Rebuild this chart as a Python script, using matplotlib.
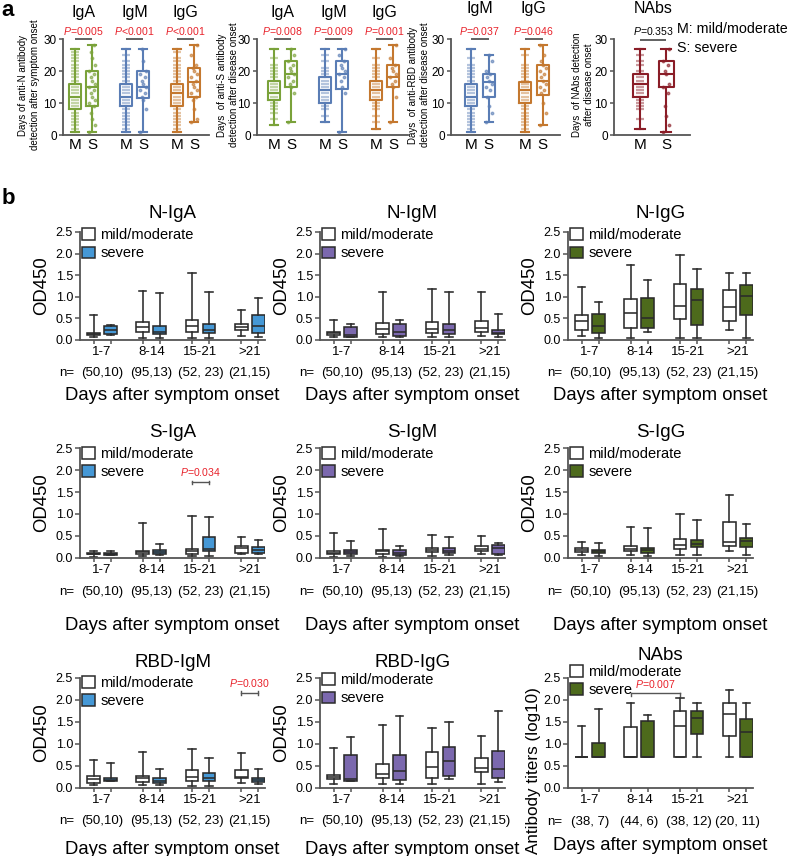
import matplotlib
matplotlib.use('Agg')
import matplotlib.pyplot as plt
from matplotlib.patches import Patch

plt.rcParams['font.family'] = ['Liberation Sans', 'DejaVu Sans']
plt.rcParams['mathtext.fontset'] = 'custom'
plt.rcParams['mathtext.rm'] = 'Liberation Sans'
plt.rcParams['mathtext.it'] = 'Liberation Sans:italic'

# ---------------- Panel a data (days) : order [M, S] per antibody ----------------
aN_titles = ['IgA', 'IgM', 'IgG']
aN_lo = [1, 1, 1, 1, 1, 4]
aN_q1 = [8, 9, 9, 11.5, 9, 12]
aN_med = [12, 15, 12, 15, 13, 16.5]
aN_q3 = [16, 20, 16, 20, 16, 21]
aN_hi = [27, 28, 27, 27, 27, 28]
aN_p = ['=0.005', '<0.001', '<0.001']
aN_ptsM = [[1, 2, 3, 4, 5, 6, 7, 8, 9, 10, 11, 12, 13, 14, 15, 16, 17, 18, 19, 20, 21, 22, 23, 24, 25, 26, 27],
           [1, 2, 3, 4, 5, 6, 7, 8, 9, 10, 11, 12, 13, 14, 15, 16, 17, 18, 19, 20, 21, 22, 23, 25, 27],
           [1, 2, 3, 4, 5, 6, 7, 8, 9, 10, 11, 12, 13, 14, 15, 16, 17, 18, 19, 20, 21, 22, 23, 24, 26, 27]]
aN_ptsS = [[1, 3, 5, 7, 9, 10, 11, 12, 13, 14, 15, 16, 17, 18, 19, 20, 22, 24, 26, 28],
           [1, 8, 11, 12, 13, 14, 15, 16, 17, 18, 19, 20, 23, 27],
           [4, 5, 8, 11, 12, 13, 14, 15, 16, 17, 18, 19, 20, 21, 22, 25, 28]]

aS_titles = ['IgA', 'IgM', 'IgG']
aS_lo = [3, 4, 4, 1, 2, 4]
aS_q1 = [11, 15, 10, 14.5, 11, 15]
aS_med = [13, 19, 14, 19, 14, 18]
aS_q3 = [17, 23, 18, 23, 17, 22]
aS_hi = [27, 27, 27, 27, 27, 28]
aS_p = ['=0.008', '=0.009', '=0.001']
aS_ptsM = [[3, 5, 7, 8, 9, 10, 11, 12, 13, 14, 15, 16, 17, 18, 19, 20, 21, 22, 24, 27],
           [4, 6, 8, 9, 10, 11, 12, 13, 14, 15, 16, 17, 18, 19, 20, 21, 23, 25, 27],
           [2, 4, 6, 8, 9, 10, 11, 12, 13, 14, 15, 16, 17, 18, 19, 20, 21, 22, 24, 27]]
aS_ptsS = [[4, 13, 15, 16, 17, 18, 19, 20, 21, 22, 23, 25, 27],
           [1, 13, 15, 17, 18, 19, 20, 21, 22, 23, 25, 27],
           [4, 12, 15, 16, 17, 18, 19, 20, 21, 22, 24, 28]]

aR_titles = ['IgM', 'IgG']
aR_lo = [1, 4, 1, 3]
aR_q1 = [9, 12, 10, 12.5]
aR_med = [12, 16.5, 14, 17]
aR_q3 = [16, 19, 16.5, 22]
aR_hi = [27, 25, 27, 28]
aR_p = ['=0.037', '=0.046']
aR_ptsM = [[1, 2, 3, 4, 5, 6, 7, 8, 9, 10, 11, 12, 13, 14, 15, 16, 17, 18, 19, 20, 21, 22, 24, 27],
           [1, 2, 3, 4, 5, 6, 7, 8, 9, 10, 11, 12, 13, 14, 15, 16, 17, 18, 19, 20, 21, 22, 25, 27]]
aR_ptsS = [[4, 7, 9, 12, 14, 15, 16, 17, 18, 19, 20, 23, 25],
           [3, 7, 10, 13, 14, 15, 16, 17, 18, 19, 20, 21, 22, 23, 25, 28]]

aNAb_titles = ['NAbs']
aNAb_lo = [2, 1]
aNAb_q1 = [12, 15]
aNAb_med = [16, 19]
aNAb_q3 = [19, 23]
aNAb_hi = [27, 27]
aNAb_p = ['=0.353']
aNAb_ptsM = [[2, 5, 8, 9, 10, 11, 12, 13, 14, 15, 16, 17, 18, 19, 20, 22, 23, 25, 27]]
aNAb_ptsS = [[1, 3, 6, 9, 13, 15, 16, 19, 20, 22, 23, 27]]

# ---------------- Panel b data (OD450) : [1-7 M, 1-7 S, 8-14 M, 8-14 S, 15-21 M, 15-21 S, >21 M, >21 S] ----
day_groups = ['1-7', '8-14', '15-21', '>21']
n_od = ['(50,10)', '(95,13)', '(52, 23)', '(21,15)']
n_nab = ['(38, 7)', '(44, 6)', '(38, 12)', '(20, 11)']

NIgA_lo = [0.07, 0.12, 0.05, 0.05, 0.05, 0.05, 0.10, 0.08]
NIgA_q1 = [0.11, 0.15, 0.18, 0.13, 0.18, 0.17, 0.22, 0.17]
NIgA_med = [0.14, 0.22, 0.29, 0.18, 0.33, 0.24, 0.31, 0.32]
NIgA_q3 = [0.17, 0.32, 0.42, 0.32, 0.47, 0.38, 0.38, 0.57]
NIgA_hi = [0.59, 0.34, 1.13, 1.08, 1.55, 1.10, 0.70, 0.97]

NIgM_lo = [0.06, 0.07, 0.08, 0.07, 0.07, 0.06, 0.10, 0.06]
NIgM_q1 = [0.12, 0.08, 0.15, 0.10, 0.16, 0.14, 0.18, 0.13]
NIgM_med = [0.16, 0.12, 0.25, 0.19, 0.26, 0.22, 0.28, 0.17]
NIgM_q3 = [0.19, 0.30, 0.39, 0.36, 0.42, 0.37, 0.45, 0.22]
NIgM_hi = [0.46, 0.36, 1.10, 0.46, 1.19, 1.10, 1.10, 0.60]

NIgG_lo = [0.10, 0.05, 0.05, 0.18, 0.05, 0.05, 0.23, 0.05]
NIgG_q1 = [0.22, 0.17, 0.28, 0.27, 0.48, 0.35, 0.43, 0.57]
NIgG_med = [0.45, 0.32, 0.62, 0.52, 0.79, 0.92, 0.76, 1.02]
NIgG_q3 = [0.58, 0.60, 0.95, 0.98, 1.30, 1.17, 1.15, 1.28]
NIgG_hi = [1.23, 0.87, 1.73, 1.40, 1.97, 1.64, 1.56, 1.56]

SIgA_lo = [0.03, 0.06, 0.04, 0.07, 0.05, 0.05, 0.08, 0.09]
SIgA_q1 = [0.08, 0.07, 0.09, 0.10, 0.10, 0.15, 0.12, 0.12]
SIgA_med = [0.10, 0.10, 0.13, 0.13, 0.15, 0.20, 0.22, 0.18]
SIgA_q3 = [0.12, 0.12, 0.17, 0.19, 0.21, 0.47, 0.28, 0.25]
SIgA_hi = [0.17, 0.15, 0.79, 0.32, 0.95, 0.93, 0.48, 0.42]

SIgM_lo = [0.03, 0.05, 0.03, 0.04, 0.05, 0.06, 0.08, 0.06]
SIgM_q1 = [0.09, 0.08, 0.10, 0.06, 0.13, 0.12, 0.16, 0.10]
SIgM_med = [0.12, 0.13, 0.15, 0.12, 0.18, 0.17, 0.21, 0.22]
SIgM_q3 = [0.15, 0.19, 0.19, 0.19, 0.23, 0.23, 0.27, 0.30]
SIgM_hi = [0.56, 0.39, 0.67, 0.27, 0.53, 0.48, 0.51, 0.35]

SIgG_lo = [0.07, 0.05, 0.06, 0.05, 0.06, 0.06, 0.17, 0.06]
SIgG_q1 = [0.13, 0.11, 0.15, 0.12, 0.21, 0.25, 0.27, 0.25]
SIgG_med = [0.18, 0.16, 0.21, 0.18, 0.30, 0.32, 0.36, 0.38]
SIgG_q3 = [0.22, 0.19, 0.28, 0.23, 0.44, 0.42, 0.81, 0.45]
SIgG_hi = [0.36, 0.35, 0.70, 0.69, 1.01, 0.87, 1.43, 0.78]

RIgM_lo = [0.06, 0.15, 0.07, 0.07, 0.05, 0.05, 0.12, 0.10]
RIgM_q1 = [0.12, 0.15, 0.14, 0.11, 0.15, 0.15, 0.22, 0.14]
RIgM_med = [0.20, 0.19, 0.22, 0.17, 0.24, 0.23, 0.25, 0.18]
RIgM_q3 = [0.27, 0.23, 0.28, 0.23, 0.42, 0.35, 0.40, 0.23]
RIgM_hi = [0.63, 0.57, 0.81, 0.44, 0.89, 0.68, 0.79, 0.44]

RIgG_lo = [0.10, 0.15, 0.08, 0.10, 0.10, 0.20, 0.10, 0.14]
RIgG_q1 = [0.20, 0.17, 0.23, 0.18, 0.23, 0.28, 0.37, 0.23]
RIgG_med = [0.25, 0.20, 0.32, 0.39, 0.48, 0.61, 0.45, 0.43]
RIgG_q3 = [0.30, 0.75, 0.55, 0.76, 0.82, 0.94, 0.68, 0.84]
RIgG_hi = [0.90, 1.16, 1.43, 1.64, 1.37, 1.49, 1.19, 1.74]

NAb_lo = [0.70, 0.70, 0.70, 0.70, 0.70, 0.70, 0.70, 0.70]
NAb_q1 = [0.70, 0.70, 0.70, 0.70, 0.70, 1.22, 1.18, 0.70]
NAb_med = [0.70, 0.70, 0.70, 0.70, 1.40, 1.60, 1.68, 1.28]
NAb_q3 = [0.70, 1.02, 1.38, 1.53, 1.75, 1.76, 1.93, 1.57]
NAb_hi = [1.40, 1.80, 1.93, 1.65, 2.05, 1.93, 2.22, 1.93]

# ---------------- styling ----------------
W, H = 788, 856
fig = plt.figure(figsize=(W / 100, H / 100), dpi=100)
PX = 0.72  # points per pixel
RED = '#e8222b'
GREEN_A, BLUE_A, ORANGE_A, RED_A = '#7aa23a', '#5a7db5', '#c4782f', '#8a1d27'
C_BLUE, C_PURPLE, C_GREEN = '#4598d6', '#7b68ae', '#4d6a1c'
EC = '#2b2b2b'
AXC = '#555555'


def add_ax(l, t, r, b):
    return fig.add_axes([l / W, 1 - b / H, (r - l) / W, (b - t) / H])


def style_spines(ax, color, lw):
    for s in ['top', 'right']:
        ax.spines[s].set_visible(False)
    for s in ['left', 'bottom']:
        ax.spines[s].set_color(color)
        ax.spines[s].set_linewidth(lw)


def panel_a(box, unit, xlim, titles, lo, q1, med, q3, hi, ptsM, ptsS, pvals, colors,
            ylabel, ylab_right, title_base_px, pcolor=RED, bw_px=12):
    l, t, r, b = box
    ax = add_ax(l, t, r, b)
    pxday = (b - t) / 30.0
    n = len(titles)
    pos = []
    for k in range(n):
        pos += [1 + 3 * k, 2 + 3 * k]
    stats = [dict(med=med[i], q1=q1[i], q3=q3[i], whislo=lo[i], whishi=hi[i]) for i in range(2 * n)]
    bw = bw_px / unit
    for i in range(2 * n):
        c = colors[i // 2]
        ax.bxp([stats[i]], positions=[pos[i]], widths=bw, capwidths=bw * 0.7, showfliers=False,
               boxprops=dict(color=c, linewidth=1.5), whiskerprops=dict(color=c, linewidth=1.5),
               capprops=dict(color=c, linewidth=1.5), medianprops=dict(color=c, linewidth=1.5))
    offs = [-3, 3, 0, -1.5, 1.5]
    title_y = (b - title_base_px) / pxday
    p_y = (b - 35) / pxday
    for k in range(n):
        c = colors[k]
        ax.plot([pos[2 * k]] * len(ptsM[k]), ptsM[k], linestyle='none', marker='_', ms=6,
                mew=1.6, color=c, alpha=0.45, zorder=1)
        xs = [pos[2 * k + 1] + offs[j % len(offs)] / unit for j in range(len(ptsS[k]))]
        ax.plot(xs, ptsS[k], linestyle='none', marker='o', ms=1.8, color=c, alpha=0.6, zorder=1)
        ax.text(pos[2 * k] + 0.5, title_y, titles[k], ha='center', va='baseline', fontsize=11.5,
                clip_on=False)
        pline = 30 if pcolor == RED else 29.7
        ax.plot([pos[2 * k], pos[2 * k + 1]], [pline, pline], color='#555555', lw=1.3, clip_on=False,
                solid_capstyle='butt')
        ptxt = r'$\it{P}$' + pvals[k]
        ax.text(pos[2 * k] + 0.5, p_y, ptxt, ha='center', va='baseline', fontsize=7.6, color=pcolor,
                clip_on=False)
    ax.set_xlim(*xlim)
    ax.set_ylim(0, 30)
    ax.set_yticks([0, 10, 20, 30])
    ax.tick_params(axis='y', labelsize=8.5, length=3, width=1.1, color=AXC, pad=1.5)
    ax.set_xticks(pos)
    ax.set_xticklabels(['M', 'S'] * n)
    ax.tick_params(axis='x', labelsize=11, length=0, pad=2.5)
    style_spines(ax, AXC, 1.3)
    ax.set_ylabel(ylabel, fontsize=7.0, linespacing=1.25)
    ax.yaxis.set_label_coords((ylab_right - l) / (r - l), 0.52)
    return ax


# ---- panel a ----
panel_a((63, 39, 209, 135), 17.0, (0.29, 8.88), aN_titles, aN_lo, aN_q1, aN_med, aN_q3, aN_hi,
        aN_ptsM, aN_ptsS, aN_p, [GREEN_A, BLUE_A, ORANGE_A],
        'Days of anti-N antibody\ndetection after symptom onset', 40, 17)
panel_a((257, 39, 408, 135), 17.0, (0.0, 8.88), aS_titles, aS_lo, aS_q1, aS_med, aS_q3, aS_hi,
        aS_ptsM, aS_ptsS, aS_p, [GREEN_A, BLUE_A, ORANGE_A],
        'Days  of anti-S antibody\ndetection after disease onset', 239, 17)
panel_a((451, 39, 560, 135), 18.0, (-0.1, 5.95), aR_titles, aR_lo, aR_q1, aR_med, aR_q3, aR_hi,
        aR_ptsM, aR_ptsS, aR_p, [BLUE_A, ORANGE_A],
        'Days  of anti-RBD antibody\ndetection after disease onset', 430, 13)
panel_a((614, 39, 690, 135), 26.0, (0.0, 2.92), aNAb_titles, aNAb_lo, aNAb_q1, aNAb_med, aNAb_q3,
        aNAb_hi, aNAb_ptsM, aNAb_ptsS, aNAb_p, [RED_A],
        'Days  of NAbs detection\nafter disease onset', 594, 13, pcolor='black', bw_px=15)

fig.text(677 / W, 1 - 29 / H, 'M: mild/moderate', fontsize=10.3, va='center', ha='left')
fig.text(677 / W, 1 - 48 / H, 'S: severe', fontsize=10.3, va='center', ha='left')
fig.text(8 / W, 1 - 11 / H, 'a', fontsize=16, fontweight='bold', va='center', ha='center')
fig.text(8 / W, 1 - 199 / H, 'b', fontsize=16, fontweight='bold', va='center', ha='center')


# ---- panel b ----
def panel_b(box, title, lo, q1, med, q3, hi, color, nlab, n_off, days_off, title_off, leg_y,
            ylabel='OD450', pbar=None):
    l, t, r, b = box
    ax = add_ax(l, t, r, b)
    pos = [1 + 2.9 * g + s for g in range(4) for s in (0, 1)]
    centers = [1.5 + 2.9 * g for g in range(4)]
    stats = [dict(med=med[i], q1=q1[i], q3=q3[i], whislo=lo[i], whishi=hi[i]) for i in range(8)]
    lw = 1.15
    bp = ax.bxp(stats, positions=pos, widths=0.76, capwidths=0.42, patch_artist=True, showfliers=False,
                boxprops=dict(edgecolor=EC, linewidth=lw), whiskerprops=dict(color=EC, linewidth=lw),
                capprops=dict(color=EC, linewidth=lw), medianprops=dict(color=EC, linewidth=lw))
    for i, patch in enumerate(bp['boxes']):
        patch.set_facecolor('white' if i % 2 == 0 else color)
    ax.set_xlim(0.2, 11.1)
    ax.set_ylim(0, 2.5)
    ax.set_yticks([0, 0.5, 1.0, 1.5, 2.0, 2.5])
    ax.set_yticklabels(['0.0', '0.5', '1.0', '1.5', '2.0', '2.5'])
    ax.tick_params(axis='y', labelsize=9, length=3.5, width=1.1, color=AXC, pad=1.5)
    ax.set_xticks(centers)
    ax.set_xticklabels(day_groups)
    ax.set_xticks(pos, minor=True)
    ax.tick_params(axis='x', which='major', labelsize=9.5, length=0, pad=4.5)
    ax.tick_params(axis='x', which='minor', length=3, width=1.1, color=AXC)
    style_spines(ax, AXC, 1.3)
    ax.set_ylabel(ylabel, fontsize=13.3, labelpad=4)
    ax.annotate(title, xy=(0.5, 1), xycoords='axes fraction', xytext=(0, title_off * PX),
                textcoords='offset points', ha='center', va='baseline', fontsize=13.5)
    ax.annotate('n=', xy=(0, 0), xycoords='axes fraction', xytext=(-13 * PX, -n_off * PX),
                textcoords='offset points', ha='center', va='center', fontsize=9.5)
    for c, lab in zip(centers, nlab):
        ax.annotate(lab, xy=(c, 0), xycoords=('data', 'axes fraction'), xytext=(0, -n_off * PX),
                    textcoords='offset points', ha='center', va='center', fontsize=9.5)
    ax.annotate('Days after symptom onset', xy=(0.5, 0), xycoords='axes fraction',
                xytext=(0, -days_off * PX), textcoords='offset points', ha='center', va='center',
                fontsize=13.3)
    handles = [Patch(facecolor='white', edgecolor=EC, linewidth=1.1),
               Patch(facecolor=color, edgecolor=EC, linewidth=1.1)]
    ax.legend(handles, ['mild/moderate', 'severe'], loc='upper left', bbox_to_anchor=(0.012, leg_y),
              frameon=False, fontsize=10.5, handlelength=0.85, handleheight=0.85, handletextpad=0.4,
              labelspacing=0.3, borderaxespad=0, borderpad=0)
    if pbar is not None:
        i1, i2, yb, yt, ptxt, down = pbar
        x1, x2 = pos[i1], pos[i2]
        ax.plot([x1, x2], [yb, yb], color='#555555', lw=1.0)
        if down:
            ax.plot([x1, x1], [yb, yb - 0.07], color='#555555', lw=1.0)
            ax.plot([x2, x2], [yb, yb - 0.07], color='#555555', lw=1.0)
        else:
            ax.plot([x1, x1], [yb - 0.04, yb + 0.04], color='#555555', lw=1.0)
            ax.plot([x2, x2], [yb - 0.04, yb + 0.04], color='#555555', lw=1.0)
        ax.text((x1 + x2) / 2, yt, r'$\it{P}$' + ptxt, ha='center', va='center', fontsize=7.6,
                color=RED)
    return ax


C1, C2, C3 = (80, 265), (320, 505), (568, 753)
R1, R2, R3 = (232, 340), (448, 558), (678, 788)

panel_b((C1[0], R1[0], C1[1], R1[1]), 'N-IgA', NIgA_lo, NIgA_q1, NIgA_med, NIgA_q3, NIgA_hi, C_BLUE,
        n_od, 33, 56, 14, 1.037)
panel_b((C2[0], R1[0], C2[1], R1[1]), 'N-IgM', NIgM_lo, NIgM_q1, NIgM_med, NIgM_q3, NIgM_hi, C_PURPLE,
        n_od, 33, 56, 14, 1.037)
panel_b((C3[0], R1[0], C3[1], R1[1]), 'N-IgG', NIgG_lo, NIgG_q1, NIgG_med, NIgG_q3, NIgG_hi, C_GREEN,
        n_od, 33, 56, 14, 1.037)

panel_b((C1[0], R2[0], C1[1], R2[1]), 'S-IgA', SIgA_lo, SIgA_q1, SIgA_med, SIgA_q3, SIgA_hi, C_BLUE,
        n_od, 34, 68, 11, 1.01, pbar=(4, 5, 1.72, 1.95, '=0.034', False))
panel_b((C2[0], R2[0], C2[1], R2[1]), 'S-IgM', SIgM_lo, SIgM_q1, SIgM_med, SIgM_q3, SIgM_hi, C_PURPLE,
        n_od, 34, 68, 11, 1.01)
panel_b((C3[0], R2[0], C3[1], R2[1]), 'S-IgG', SIgG_lo, SIgG_q1, SIgG_med, SIgG_q3, SIgG_hi, C_GREEN,
        n_od, 34, 68, 11, 1.01)

panel_b((C1[0], R3[0], C1[1], R3[1]), 'RBD-IgM', RIgM_lo, RIgM_q1, RIgM_med, RIgM_q3, RIgM_hi, C_BLUE,
        n_od, 33, 61, 11, 1.02, pbar=(6, 7, 2.16, 2.38, '=0.030', False))
panel_b((C2[0], R3[0], C2[1], R3[1]), 'RBD-IgG', RIgG_lo, RIgG_q1, RIgG_med, RIgG_q3, RIgG_hi, C_PURPLE,
        n_od, 33, 61, 11, 1.045)
axn = panel_b((C3[0], R3[0], C3[1], R3[1]), 'NAbs', NAb_lo, NAb_q1, NAb_med, NAb_q3, NAb_hi, C_GREEN,
              n_nab, 34, 58, 18, 1.12, ylabel='Antibody titers (log10)',
              pbar=(2, 4, 2.15, 2.37, '=0.007', True))
axn.yaxis.label.set_fontsize(12.3)
axn.yaxis.set_label_coords((541 - C3[0]) / (C3[1] - C3[0]), 0.16)

fig.savefig('out.png', dpi=100)
